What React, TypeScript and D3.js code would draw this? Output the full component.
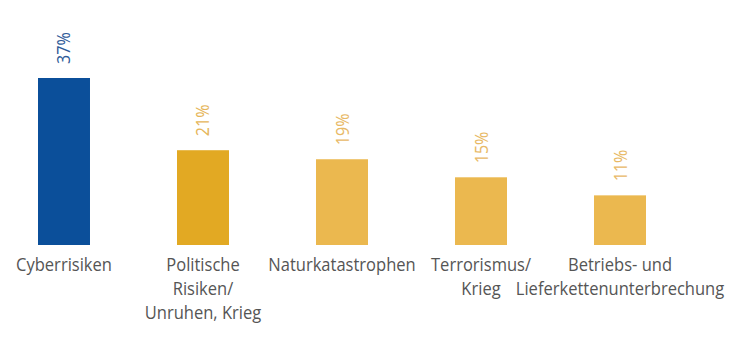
import React from "react";
import * as d3 from "d3";

const categories = ["Cyberrisiken", "Politische Risiken/ Unruhen, Krieg", "Naturkatastrophen", "Terrorismus/ Krieg", "Betriebs- und Lieferkettenunterbrechung"];
const labelLines = [["Cyberrisiken"], ["Politische", "Risiken/", "Unruhen, Krieg"], ["Naturkatastrophen"], ["Terrorismus/", "Krieg"], ["Betriebs- und", "Lieferkettenunterbrechung"]];
const values = [37, 21, 19, 15, 11];
const barColors = ["#0b4f9a", "#e2a923", "#ebb84f", "#ebb84f", "#ebb84f"];
const valueColors = ["#2f5b98", "#e6b65a", "#e8b966", "#e8b966", "#e8b966"];

const W = 730, H = 352;
const FONT = "'Open Sans', sans-serif";
const SX = 0.87;

export default function App() {
  const x = d3.scaleBand<string>().domain(categories).range([38, 646]).paddingInner(0.626).paddingOuter(0);
  const y = d3.scaleLinear().domain([0, 37]).range([245, 78]);
  return (
    <svg width={W} height={H} style={{ position: "absolute", left: 0, top: 0, background: "#fff" }}>
      {categories.map((c, i) => {
        const x0 = x(c)!;
        const cx = x0 + x.bandwidth() / 2;
        const top = y(values[i]);
        return (
          <g key={c}>
            <rect x={x0} y={top} width={x.bandwidth()} height={y(0) - top} fill={barColors[i]} />
            <text
              transform={`translate(${cx + 6.5},${top - 14}) rotate(-90) scale(${SX},1)`}
              fontFamily={FONT}
              fontSize={18.5}
              fill={valueColors[i]}
            >
              {values[i]}%
            </text>
            <g transform={`translate(${cx},0) scale(${SX},1)`}>
              <text textAnchor="middle" fontFamily={FONT} fontSize={19} fill="#555">
                {labelLines[i].map((l, j) => (
                  <tspan key={j} x={0} y={271 + j * 24}>{l}</tspan>
                ))}
              </text>
            </g>
          </g>
        );
      })}
    </svg>
  );
}
